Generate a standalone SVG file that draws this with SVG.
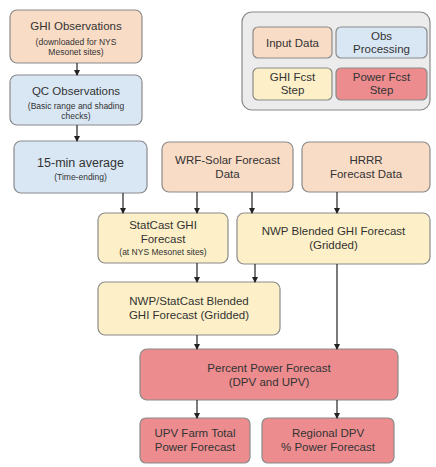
<svg xmlns="http://www.w3.org/2000/svg" width="436" height="467" viewBox="0 0 436 467">
<style>
  .box{stroke:#8a8a8a;stroke-width:1.2}
  .in{fill:#f9dcc6}
  .obs{fill:#d9e7f5}
  .ghi{fill:#fdf0c8}
  .pw{fill:#ec8c8f}
  .t{font-family:"Liberation Sans",Arial,sans-serif;font-size:11.5px;fill:#333;text-anchor:middle}
  .s{font-family:"Liberation Sans",Arial,sans-serif;font-size:8.5px;fill:#333;text-anchor:middle}
  .c{stroke:#222;stroke-width:1.2;fill:none;marker-end:url(#ah)}
</style>
<defs>
  <marker id="ah" markerWidth="6" markerHeight="6" refX="5" refY="3" orient="auto" markerUnits="userSpaceOnUse">
    <path d="M0,0 L6,3 L0,6 Z" fill="#222"/>
  </marker>
</defs>
<rect width="436" height="467" fill="#ffffff"/>

<g id="legend">
  <rect x="242" y="12" width="188" height="98" rx="10" fill="#ececec" stroke="#8a8a8a" stroke-width="1.2"/>
  <rect class="box in" x="253" y="27" width="79" height="31" rx="5"/>
  <text class="t" x="292.5" y="46.5">Input Data</text>
  <rect class="box obs" x="336" y="27" width="91" height="31" rx="5"/>
  <text class="t" x="381.5" y="40">Obs</text>
  <text class="t" x="381.5" y="53">Processing</text>
  <rect class="box ghi" x="253" y="68" width="79" height="32" rx="5"/>
  <text class="t" x="292.5" y="81">GHI Fcst</text>
  <text class="t" x="292.5" y="94">Step</text>
  <rect class="box pw" x="336" y="68" width="91" height="32" rx="5"/>
  <text class="t" x="381.5" y="81">Power Fcst</text>
  <text class="t" x="381.5" y="94">Step</text>
</g>

<g id="ghi_obs">
  <rect class="box in" x="10" y="10" width="132" height="53" rx="7"/>
  <text class="t" x="76" y="30">GHI Observations</text>
  <text class="s" x="76" y="45">(downloaded for NYS</text>
  <text class="s" x="76" y="55">Mesonet sites)</text>
</g>

<g id="qc_obs">
  <rect class="box obs" x="10" y="75" width="132" height="50" rx="7"/>
  <text class="t" x="76" y="95">QC Observations</text>
  <text class="s" x="76" y="109">(Basic range and shading</text>
  <text class="s" x="76" y="119">checks)</text>
</g>

<g id="avg15">
  <rect class="box obs" x="14" y="141" width="133" height="52" rx="7"/>
  <text class="t" x="80.5" y="167" style="font-size:12.5px">15-min average</text>
  <text class="s" x="80.5" y="180">(Time-ending)</text>
</g>

<g id="wrf">
  <rect class="box in" x="162" y="142" width="131" height="50" rx="7"/>
  <text class="t" x="227.5" y="164">WRF-Solar Forecast</text>
  <text class="t" x="227.5" y="178">Data</text>
</g>

<g id="hrrr">
  <rect class="box in" x="302" y="142" width="128" height="50" rx="7"/>
  <text class="t" x="366" y="164">HRRR</text>
  <text class="t" x="366" y="178">Forecast Data</text>
</g>

<g id="statcast">
  <rect class="box ghi" x="98" y="213" width="130" height="50" rx="7"/>
  <text class="t" x="163" y="229">StatCast GHI</text>
  <text class="t" x="163" y="243">Forecast</text>
  <text class="s" x="163" y="255">(at NYS Mesonet sites)</text>
</g>

<g id="nwp_blend">
  <rect class="box ghi" x="237" y="213" width="193" height="51" rx="7"/>
  <text class="t" x="333.5" y="235">NWP Blended GHI Forecast</text>
  <text class="t" x="333.5" y="249">(Gridded)</text>
</g>

<g id="nwp_statcast">
  <rect class="box ghi" x="98" y="282" width="182" height="53" rx="7"/>
  <text class="t" x="189" y="305">NWP/StatCast Blended</text>
  <text class="t" x="189" y="319">GHI Forecast (Gridded)</text>
</g>

<g id="percent">
  <rect class="box pw" x="140" y="349" width="258" height="51" rx="7"/>
  <text class="t" x="269" y="372">Percent Power Forecast</text>
  <text class="t" x="269" y="386">(DPV and UPV)</text>
</g>

<g id="upv">
  <rect class="box pw" x="140" y="418" width="110" height="45" rx="6"/>
  <text class="t" x="195" y="437">UPV Farm Total</text>
  <text class="t" x="195" y="451">Power Forecast</text>
</g>

<g id="dpv">
  <rect class="box pw" x="262" y="418" width="132" height="45" rx="6"/>
  <text class="t" x="328" y="437">Regional DPV</text>
  <text class="t" x="328" y="451">% Power Forecast</text>
</g>

<g id="connectors">
  <line class="c" x1="77" y1="63" x2="77" y2="75"/>
  <line class="c" x1="77" y1="125" x2="77" y2="141"/>
  <line class="c" x1="123" y1="193" x2="123" y2="213"/>
  <line class="c" x1="197" y1="192" x2="197" y2="213"/>
  <line class="c" x1="252" y1="192" x2="252" y2="213"/>
  <line class="c" x1="337" y1="192" x2="337" y2="213"/>
  <line class="c" x1="197" y1="263" x2="197" y2="282"/>
  <line class="c" x1="255" y1="264" x2="255" y2="282"/>
  <line class="c" x1="337" y1="264" x2="337" y2="349"/>
  <line class="c" x1="197" y1="335" x2="197" y2="349"/>
  <line class="c" x1="197" y1="400" x2="197" y2="418"/>
  <line class="c" x1="337" y1="400" x2="337" y2="418"/>
</g>
</svg>
